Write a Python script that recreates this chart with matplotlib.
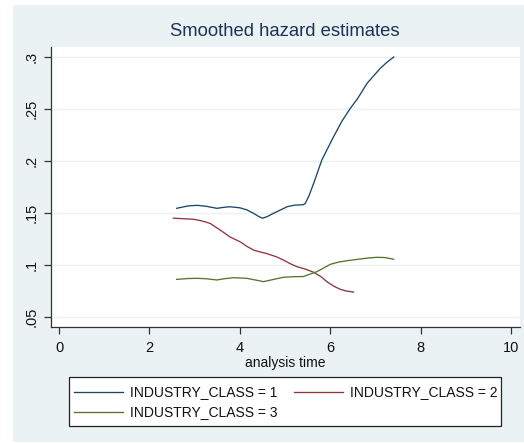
import matplotlib
matplotlib.use("Agg")
import matplotlib.pyplot as plt
from matplotlib.patches import Rectangle
from matplotlib.lines import Line2D

plt.rcParams['font.family'] = ['Liberation Sans', 'DejaVu Sans']

title = "Smoothed hazard estimates"
xlabel = "analysis time"
labels = ["INDUSTRY_CLASS = 1", "INDUSTRY_CLASS = 2", "INDUSTRY_CLASS = 3"]
colors = ["#1A476F", "#90353B", "#55752F"]

x1 = [2.60, 2.85, 3.05, 3.25, 3.49, 3.65, 3.78, 4.00, 4.15, 4.30, 4.42, 4.50, 4.60, 4.74, 4.90, 5.04, 5.20, 5.40, 5.44, 5.52, 5.63, 5.81, 6.07, 6.25, 6.44, 6.60, 6.81, 7.10, 7.25, 7.40]
y1 = [0.1545, 0.1568, 0.1574, 0.1565, 0.1545, 0.1555, 0.156, 0.155, 0.153, 0.1497, 0.1465, 0.145, 0.1465, 0.1497, 0.153, 0.156, 0.1575, 0.158, 0.159, 0.166, 0.1786, 0.201, 0.2234, 0.238, 0.2507, 0.260, 0.2747, 0.289, 0.295, 0.300]

x2 = [2.53, 2.75, 2.97, 3.15, 3.34, 3.55, 3.78, 4.00, 4.15, 4.30, 4.45, 4.59, 4.80, 4.96, 5.10, 5.26, 5.45, 5.63, 5.80, 5.92, 6.08, 6.22, 6.35, 6.51]
y2 = [0.145, 0.1445, 0.144, 0.1425, 0.140, 0.134, 0.127, 0.1224, 0.118, 0.1144, 0.1125, 0.111, 0.108, 0.1048, 0.1015, 0.0984, 0.096, 0.0930, 0.0885, 0.084, 0.0795, 0.0766, 0.075, 0.074]

x3 = [2.60, 2.85, 3.05, 3.25, 3.49, 3.65, 3.86, 4.15, 4.35, 4.52, 4.75, 4.96, 5.20, 5.40, 5.50, 5.70, 6.00, 6.18, 6.36, 6.66, 6.85, 7.03, 7.20, 7.40]
y3 = [0.0862, 0.0870, 0.0872, 0.0868, 0.0856, 0.0868, 0.0878, 0.0872, 0.0855, 0.084, 0.0862, 0.0882, 0.0888, 0.0889, 0.0905, 0.0936, 0.1007, 0.1028, 0.1041, 0.1058, 0.1068, 0.1074, 0.1072, 0.1055]

xticks = [0, 2, 4, 6, 8, 10]
yticks = [0.05, 0.1, 0.15, 0.2, 0.25, 0.3]
yticklabels = [".05", ".1", ".15", ".2", ".25", ".3"]

W, H = 524, 443
fig = plt.figure(figsize=(W / 100, H / 100), dpi=100)
fig.patch.set_facecolor("white")
bg = "#EAF2F3"


def fx(px):
    return px / W


def fy(py):
    return 1 - py / H


fig.patches.append(Rectangle((fx(13), fy(442)), (524 - 13) / W, (442 - 5) / H,
                             transform=fig.transFigure, facecolor=bg, edgecolor="none", zorder=-5))

ax = fig.add_axes([fx(51), fy(327), (520 - 51) / W, (327 - 47) / H])
ax.set_zorder(2)
ax.set_facecolor("white")
for xs, ys, c in zip([x1, x2, x3], [y1, y2, y3], colors):
    ax.plot(xs, ys, color=c, lw=0.95)

ax.set_xlim(-0.177, 10.19)
ax.set_ylim(0.0404, 0.3096)
ax.set_xticks(xticks)
ax.set_xticklabels([str(t) for t in xticks])
ax.set_yticks(yticks)
ax.set_yticklabels(yticklabels, rotation=90, va="center")
ax.grid(axis="y", color="#EAF2F3", lw=1.0)
ax.set_axisbelow(True)
for s in ["top", "right"]:
    ax.spines[s].set_visible(False)
for s in ["left", "bottom"]:
    ax.spines[s].set_color("#333333")
    ax.spines[s].set_linewidth(0.9)
ax.tick_params(direction="out", length=5, width=0.9, color="#333333", labelsize=10.5, labelcolor="#111111")
ax.tick_params(axis="x", pad=5)
ax.tick_params(axis="y", pad=4)
ax.set_xlabel(xlabel, fontsize=10, color="#111111", labelpad=1)
fig.text(fx(285), fy(32), title, ha="center", va="center", fontsize=13.3, color="#1C3258")

# legend, drawn by hand in Stata row-major layout
fig.patches.append(Rectangle((fx(69), fy(426)), (501 - 69) / W, (426 - 377) / H,
                             transform=fig.transFigure, facecolor="white", edgecolor="#222222",
                             lw=0.9, zorder=3))
slots = [(74, 392), (294, 392), (74, 412)]
for (sx, sy), c, lab in zip(slots, colors, labels):
    fig.add_artist(Line2D([fx(sx), fx(sx + 49)], [fy(sy), fy(sy)], color=c, lw=0.95,
                          transform=fig.transFigure, zorder=4))
    fig.text(fx(sx + 56), fy(sy), lab, ha="left", va="center", fontsize=10, color="#111111", zorder=4)

fig.savefig("out.png", dpi=100)
